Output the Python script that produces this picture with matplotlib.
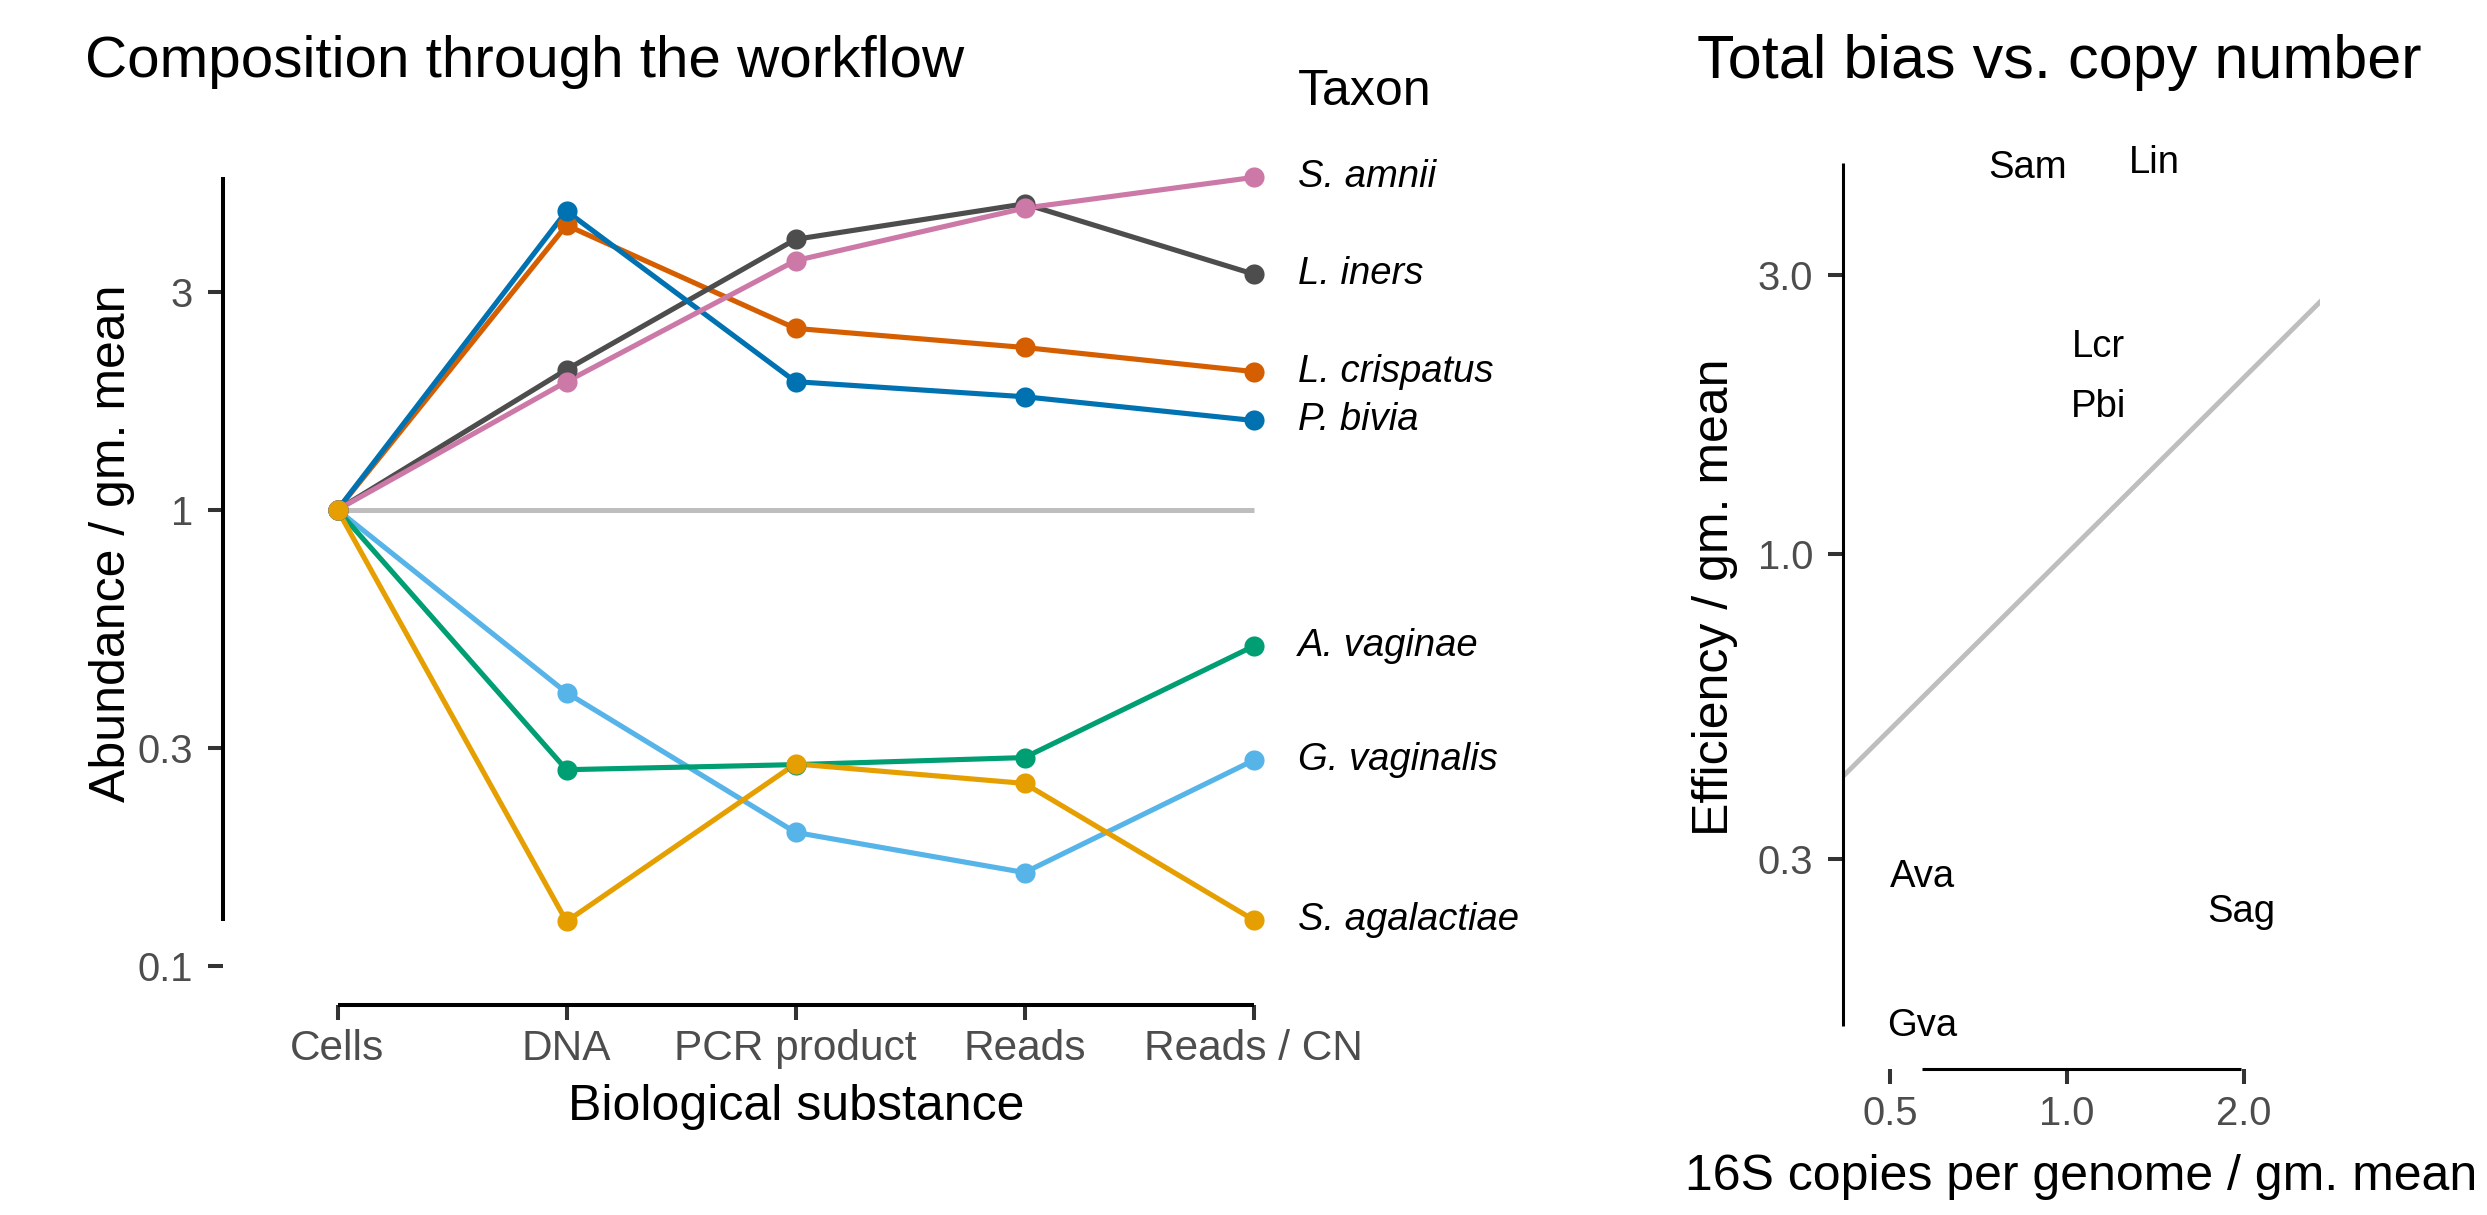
import numpy as np
import matplotlib
matplotlib.use("Agg")
import matplotlib.pyplot as plt
from matplotlib.ticker import FixedLocator, NullLocator, FixedFormatter

plt.rcParams['font.family'] = ['Liberation Sans', 'DejaVu Sans']

# ---- data -------------------------------------------------------------
stages = ["Cells", "DNA", "PCR product", "Reads", "Reads / CN"]

taxa = ["L. crispatus", "L. iners", "G. vaginalis", "A. vaginae",
        "P. bivia", "S. amnii", "S. agalactiae"]
codes = ["Lcr", "Lin", "Gva", "Ava", "Pbi", "Sam", "Sag"]
colors = ["#D55E00", "#4D4D4D", "#56B4E9", "#009E73",
          "#0072B2", "#CC79A7", "#E69F00"]

# abundance relative to the geometric mean, one list per taxon (Cells..Reads/CN)
abund_lcr = [1.0, 4.21, 2.50, 2.27, 2.01]
abund_lin = [1.0, 2.03, 3.92, 4.69, 3.29]
abund_gva = [1.0, 0.397, 0.196, 0.160, 0.282]
abund_ava = [1.0, 0.269, 0.276, 0.286, 0.502]
abund_pbi = [1.0, 4.52, 1.91, 1.77, 1.57]
abund_sam = [1.0, 1.91, 3.52, 4.59, 5.36]
abund_sag = [1.0, 0.125, 0.277, 0.251, 0.126]
abundances = [abund_lcr, abund_lin, abund_gva, abund_ava,
              abund_pbi, abund_sam, abund_sag]

# 16S copy number and total efficiency, relative to the geometric mean
copy_number = [1.13, 1.41, 0.566, 0.566, 1.13, 0.855, 1.98]
efficiency = [2.26, 4.67, 0.155, 0.279, 1.78, 4.59, 0.243]

left_yticks = [0.1, 0.3, 1, 3]
left_yticklabels = ["0.1", "0.3", "1", "3"]
right_yticks = [0.3, 1.0, 3.0]
right_yticklabels = ["0.3", "1.0", "3.0"]
right_xticks = [0.5, 1.0, 2.0]
right_xticklabels = ["0.5", "1.0", "2.0"]

# ---- figure -----------------------------------------------------------
W, H = 2487, 1215
fig = plt.figure(figsize=(W / 100, H / 100), dpi=100)

def frac(l, t, r, b):
    return [l / W, 1 - b / H, (r - l) / W, (b - t) / H]

TICK_COL = "#333333"
TXT_COL = "#4D4D4D"
TICK_FS = 28.8
XTICK_FS = 30.5
AXT_FS = 36
LAB_FS = 27.5

# ---- left panel: composition through the workflow ----------------------
ax1 = fig.add_axes(frac(223, 138, 1368, 1005))
x = np.arange(len(stages))
ax1.plot(x[[0, -1]], [1, 1], color="#BEBEBE", lw=3.6, solid_capstyle="butt", zorder=1)
for vals, col in zip(abundances, colors):
    ax1.plot(x, vals, color=col, lw=3.7, zorder=2, solid_capstyle="butt")
for vals, col in zip(abundances, colors):
    ax1.plot(x, vals, 'o', color=col, ms=14.5, mew=0, zorder=3)
for vals, name in zip(abundances, taxa):
    ax1.annotate(name, (x[-1], vals[-1]), xytext=(31.7, 0), textcoords="offset points",
                 ha="left", va="center", fontsize=LAB_FS, style="italic",
                 color="black", annotation_clip=False)

ax1.set_yscale("log")
ax1.set_xlim(-0.5, 4.5)
ymin = min(min(v) for v in abundances)
ymax = max(max(v) for v in abundances)
lo, hi = np.log10(min(ymin, 0.1)), np.log10(ymax)
pad = 0.05 * (hi - lo)
ax1.set_ylim(10 ** (lo - pad), 10 ** (hi + pad))
ax1.yaxis.set_major_locator(FixedLocator(left_yticks))
ax1.yaxis.set_major_formatter(FixedFormatter(left_yticklabels))
ax1.yaxis.set_minor_locator(NullLocator())
ax1.set_xticks(x)
ax1.set_xticklabels(stages)

for s in ["top", "right"]:
    ax1.spines[s].set_visible(False)
ax1.spines["left"].set_bounds(ymin, ymax)
ax1.spines["bottom"].set_bounds(x[0], x[-1])
for s in ["left", "bottom"]:
    ax1.spines[s].set_linewidth(2.9)
    ax1.spines[s].set_color("black")
    ax1.spines[s].set_capstyle("butt")
ax1.tick_params(axis="both", which="major", length=10.5, width=2.9, color=TICK_COL,
                labelsize=TICK_FS, labelcolor=TXT_COL)
ax1.tick_params(axis="y", pad=11)
ax1.tick_params(axis="x", pad=7, labelsize=XTICK_FS)

fig.text(85 / W, 1 - 77 / H, "Composition through the workflow", fontsize=42,
         ha="left", va="baseline")
fig.text(1298 / W, 1 - 105 / H, "Taxon", fontsize=AXT_FS, ha="left", va="baseline")
fig.text(796 / W, 1 - 1120 / H, "Biological substance", fontsize=AXT_FS,
         ha="center", va="baseline")
fig.text(112 / W, 1 - 543 / H, "Abundance / gm. mean", fontsize=AXT_FS,
         ha="center", va="center", rotation=90)

# ---- right panel: total bias vs copy number ---------------------------
ax2 = fig.add_axes(frac(1843, 120, 2320, 1069))
ax2.set_xscale("log")
ax2.set_yscale("log")
ax2.set_xlim(0.415, 2.70)
elo, ehi = np.log10(min(efficiency)), np.log10(max(efficiency))
epad = 0.05 * (ehi - elo)
ax2.set_ylim(10 ** (elo - epad), 10 ** (ehi + epad))
ax2.axline((1, 1), (2, 2), color="#BEBEBE", lw=3.5, zorder=1)
for cx, ey, code in zip(copy_number, efficiency, codes):
    ax2.text(cx, ey, code, ha="center", va="center", fontsize=LAB_FS, color="black",
             zorder=3)

ax2.xaxis.set_major_locator(FixedLocator(right_xticks))
ax2.xaxis.set_major_formatter(FixedFormatter(right_xticklabels))
ax2.xaxis.set_minor_locator(NullLocator())
ax2.yaxis.set_major_locator(FixedLocator(right_yticks))
ax2.yaxis.set_major_formatter(FixedFormatter(right_yticklabels))
ax2.yaxis.set_minor_locator(NullLocator())

for s in ["top", "right"]:
    ax2.spines[s].set_visible(False)
ax2.spines["left"].set_bounds(min(efficiency), max(efficiency))
ax2.spines["bottom"].set_bounds(min(copy_number), max(copy_number))
for s in ["left", "bottom"]:
    ax2.spines[s].set_linewidth(2.2)
    ax2.spines[s].set_color("black")
    ax2.spines[s].set_capstyle("butt")
ax2.tick_params(axis="both", which="major", length=10.5, width=2.9, color=TICK_COL,
                labelsize=TICK_FS, labelcolor=TXT_COL)
ax2.tick_params(axis="y", pad=11)
ax2.tick_params(axis="x", pad=8)

fig.text(1697 / W, 1 - 78 / H, "Total bias vs. copy number", fontsize=44,
         ha="left", va="baseline")
fig.text(2081 / W, 1 - 1190 / H, "16S copies per genome / gm. mean", fontsize=AXT_FS,
         ha="center", va="baseline")
fig.text(1715 / W, 1 - 597 / H, "Efficiency / gm. mean", fontsize=AXT_FS,
         ha="center", va="center", rotation=90)

fig.savefig("out.png", dpi=100, facecolor="white")
